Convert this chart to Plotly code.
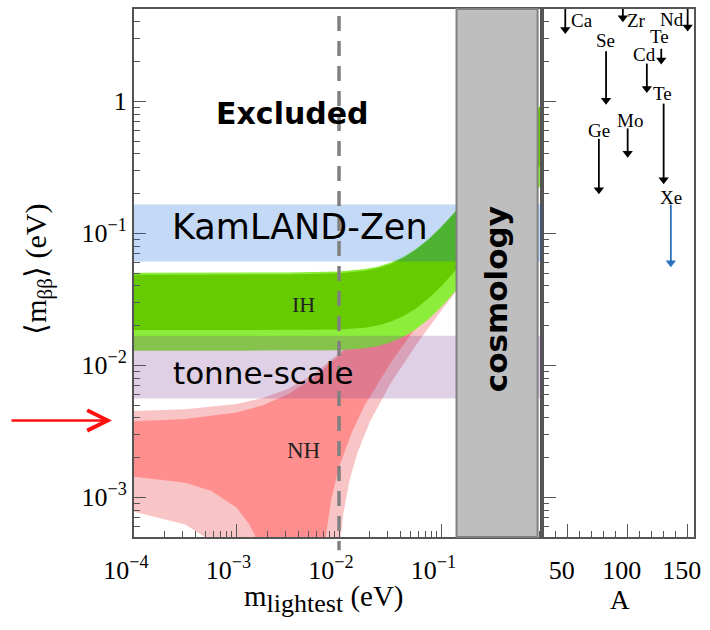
import math
import plotly.graph_objects as go

# ---------------- data ----------------
# Normal hierarchy, best-fit parameters (dark red band): m_lightest (eV) -> <m_bb> (eV)
nh_up_m = [1e-4, 3.16e-4, 1e-3, 1.78e-3, 3.16e-3, 5.62e-3, 1e-2, 1.78e-2, 3.16e-2, 5.62e-2, 0.1, 0.178, 0.316, 1.0]
nh_up = [0.00377, 0.00391, 0.00439, 0.00496, 0.00601, 0.00802, 0.01187, 0.01917, 0.03258, 0.0568, 0.1004, 0.178, 0.316, 1.0]
# lower edge; 1e-5 marks full cancellation (<m_bb> -> 0, below the axis)
nh_lo_m = [1e-4, 3.16e-4, 5.62e-4, 1e-3, 1.33e-3, 1.5e-3, 1.78e-3, 1.9e-3, 2.1e-3, 6.8e-3, 7e-3, 7.5e-3,
           8.4e-3, 1e-2, 1.33e-2, 1.78e-2, 3.16e-2, 5.62e-2, 0.1, 0.178, 0.316, 0.562, 1.0]
nh_lo = [0.00143, 0.00129, 0.00112, 0.000837, 0.000625, 0.00052, 0.000345, 0.000272, 1e-5, 1e-5, 0.0003, 0.000536,
         0.00096, 0.00169, 0.00309, 0.00497, 0.0103, 0.01938, 0.03523, 0.0632, 0.1125, 0.2002, 0.356]

# Normal hierarchy, 3 sigma (light red band)
nh3_up_m = [1e-4, 3.16e-4, 1e-3, 1.78e-3, 3.16e-3, 5.62e-3, 1e-2, 1.78e-2, 3.16e-2, 5.62e-2, 0.1, 0.178, 0.316, 1.0]
nh3_up = [0.0045, 0.00464, 0.00509, 0.00563, 0.00662, 0.00856, 0.01233, 0.01956, 0.0329, 0.0572, 0.1008, 0.1785, 0.3165, 1.002]
nh3_lo_m = [1e-4, 3.16e-4, 5e-4, 6e-4, 8e-4, 1e-3, 1.1e-3, 9.5e-3, 1e-2, 1.1e-2, 1.26e-2, 1.5e-2, 2e-2,
            3.16e-2, 5.62e-2, 0.1, 0.178, 0.316, 0.562, 1.0]
nh3_lo = [0.000776, 0.000623, 0.000495, 0.00043, 0.000288, 0.00015, 1e-5, 0.00019, 0.00038, 0.000747, 0.00132,
          0.00214, 0.00374, 0.00722, 0.01418, 0.02614, 0.0471, 0.0839, 0.1493, 0.266]

# Inverted hierarchy
ih_m = [1e-4, 1e-3, 3.16e-3, 1e-2, 1.78e-2, 2.37e-2, 3.16e-2, 4.22e-2, 5.62e-2, 7.5e-2, 0.1, 0.133, 0.178, 0.316, 0.562, 1.0]
ih_up = [0.0486, 0.0487, 0.0488, 0.0498, 0.0520, 0.0544, 0.0583, 0.0647, 0.0747, 0.0896, 0.1114, 0.1421, 0.1847, 0.3198, 0.5641, 1.0012]
ih_lo = [0.0185, 0.0185, 0.0185, 0.01865, 0.01928, 0.01998, 0.02132, 0.02347, 0.02693, 0.03217, 0.03987, 0.05075, 0.06585, 0.1139, 0.2009, 0.3564]
ih3_up = [0.0502, 0.0503, 0.0504, 0.0514, 0.0535, 0.0558, 0.0597, 0.0660, 0.0760, 0.0908, 0.1126, 0.1432, 0.1858, 0.3208, 0.5650, 1.002]
ih3_lo = [0.0129, 0.0129, 0.0129, 0.0130, 0.01344, 0.01393, 0.01486, 0.01636, 0.01877, 0.02242, 0.02779, 0.03537, 0.0459, 0.0794, 0.14, 0.2484]

# horizontal sensitivity bands (eV)
kamland_zen = [0.061, 0.165]
tonne_scale = [0.0056, 0.0167]
# cosmology-excluded m_lightest (eV)
cosmology = [0.14, 0.865]
# dashed reference line
m_dashed = 0.01

# right panel: isotope limits
iso_names = ["Ca", "Ge", "Se", "Zr", "Mo", "Cd", "Te", "Te", "Xe", "Nd"]
iso_A = [48, 76, 82, 96, 100, 116, 128, 130, 136, 150]
iso_m_top = [10.0, 0.519, 2.39, 10.0, 0.623, 1.93, 2.5, 0.96, 0.165, 10.0]
iso_m_bot = [3.5, 0.214, 1.02, 4.3, 0.404, 1.25, 2.05, 0.254, 0.0597, 3.65]
iso_colors = ["black"] * 8 + ["#2a72c0", "black"]

x_ticks = [1e-4, 1e-3, 1e-2, 1e-1]
x_ticktext = ["10<sup>−4</sup>", "10<sup>−3</sup>", "10<sup>−2</sup>", "10<sup>−1</sup>"]
y_ticks = [1e-3, 1e-2, 1e-1, 1]
y_ticktext = ["10<sup>−3</sup>", "10<sup>−2</sup>", "10<sup>−1</sup>", "1"]
A_ticks = [50, 100, 150]

# ---------------- styling ----------------
SERIF = "Liberation Serif"
SANS = "DejaVu Sans"
AX = "#555555"
Y_RANGE = [math.log10(5e-4), math.log10(5)]
X_RANGE = [-4, -0.02]
A_RANGE = [28.6, 155.3]
D = 408 / 560.0

x_minor = [k * 10 ** e for e in range(-4, 0) for k in range(2, 10)]
y_minor = [k * 10 ** e for e in range(-4, 1) for k in range(2, 10)]


def band(xu, yu, xl, yl):
    return list(xu) + list(xl)[::-1], list(yu) + list(yl)[::-1]


fig = go.Figure()


def poly(xu, yu, xl, yl, color):
    xs, ys = band(xu, yu, xl, yl)
    fig.add_trace(go.Scatter(x=xs, y=ys, fill="toself", fillcolor=color, mode="lines",
                             line=dict(width=0), hoverinfo="skip", xaxis="x", yaxis="y"))


poly(nh3_up_m, nh3_up, nh3_lo_m, nh3_lo, "#f9c4c6")
poly(nh_up_m, nh_up, nh_lo_m, nh_lo, "#ff8f8f")
poly(ih_m, ih3_up, ih_m, ih3_lo, "#8cee3a")
poly(ih_m, ih_up, ih_m, ih_lo, "#66cc00")

# isotope arrows
for name, A, mt, mb, col in zip(iso_names, iso_A, iso_m_top, iso_m_bot, iso_colors):
    fig.add_trace(go.Scatter(x=[A, A], y=[mt, mb], mode="lines", line=dict(color=col, width=1.8),
                             hoverinfo="skip", xaxis="x2", yaxis="y2"))
    fig.add_trace(go.Scatter(x=[A], y=[mb], mode="markers",
                             marker=dict(symbol="triangle-down", size=9, color=col),
                             hoverinfo="skip", xaxis="x2", yaxis="y2", cliponaxis=False))

x_end = 10 ** X_RANGE[1]
shapes = [
    dict(type="rect", xref="x", yref="y", x0=1e-4, x1=x_end, y0=kamland_zen[0], y1=kamland_zen[1],
         fillcolor="rgba(0,93,213,0.235)", line=dict(width=0), layer="above"),
    dict(type="rect", xref="x", yref="y", x0=1e-4, x1=x_end, y0=tonne_scale[0], y1=tonne_scale[1],
         fillcolor="rgba(118,50,141,0.23)", line=dict(width=0), layer="above"),
    dict(type="rect", xref="x", yref="paper", x0=cosmology[0], x1=cosmology[1], y0=0, y1=1,
         fillcolor="#bebebe", line=dict(color="#808080", width=2), layer="above"),
    dict(type="line", xref="x", yref="paper", x0=m_dashed, x1=m_dashed, y0=0.9868, y1=-0.025,
         line=dict(color="#808080", width=3.5, dash="15px,10px"), layer="above"),
]

ann = []


def text(x, y, s, size, family, xref="x", yref="y", angle=0, color="black"):
    ann.append(dict(x=x, y=y, xref=xref, yref=yref, text=s, showarrow=False, textangle=angle,
                    font=dict(size=size, family=family, color=color), xanchor="center", yanchor="middle"))


text(-2.45, -0.09, "<b>Excluded</b>", 30, SANS)
text(-2.385, -0.955, "KamLAND-Zen", 35, SANS)
text(-2.737, -2.055, "tonne-scale", 31, SANS)
text(-0.47, -1.50, "<b>cosmology</b>", 31, SANS, angle=-90)
text(-2.351, -1.543, "IH", 22, SERIF, color="#222222")
text(-2.346, -2.645, "NH", 23, SERIF, color="#222222")

# isotope labels (A, log10 m)
iso_label_pos = [(62.3, 0.611), (76.1, -0.219), (81.9, 0.460), (107.5, 0.615), (102.3, -0.143),
                 (114.0, 0.358), (126.9, 0.490), (129.4, 0.060), (136.5, -0.728), (137.3, 0.622)]
for name, (lx, ly) in zip(iso_names, iso_label_pos):
    text(lx, ly, name, 19, SERIF, xref="x2", yref="y2")

# axis titles
text(-0.172, 0.5075, "⟨m<sub>ββ</sub>⟩ (eV)", 30, SERIF, xref="paper", yref="paper", angle=-90)
text(0.3393, -0.117, "m<sub><span style='font-size:26px'>lightest</span></sub> (eV)", 29, SERIF,
     xref="paper", yref="paper")
text(0.8679, -0.12, "A", 27, SERIF, xref="paper", yref="paper")

# red arrow in the margin
ann.append(dict(x=-0.0393, y=0.2208, xref="paper", yref="paper", ax=-102, ay=0, text="",
                showarrow=True, arrowhead=5, arrowsize=1.6, arrowwidth=2.5, arrowcolor="#ff1010",
                standoff=0))

tickfont = dict(family=SERIF, size=26, color="black")
common = dict(showline=True, mirror=True, linecolor=AX, linewidth=2, showgrid=False, zeroline=False,
              ticks="inside", tickcolor=AX, tickwidth=1.3, tickfont=tickfont)

fig.update_layout(
    width=710, height=630, margin=dict(l=134, r=16, t=7, b=93),
    paper_bgcolor="white", plot_bgcolor="white", showlegend=False,
    xaxis=dict(domain=[0, D], type="log", range=X_RANGE, anchor="y", tickvals=x_ticks, ticktext=x_ticktext,
               ticklen=13, ticklabelshift=-8, ticklabelstandoff=9,
               minor=dict(tickvals=x_minor, ticks="inside", ticklen=6, tickcolor=AX, tickwidth=1.2), **common),
    yaxis=dict(domain=[0, 1], type="log", range=Y_RANGE, anchor="x", tickvals=y_ticks, ticktext=y_ticktext,
               ticklen=12,
               minor=dict(tickvals=y_minor, ticks="inside", ticklen=6, tickcolor=AX, tickwidth=1.2), **common),
    xaxis2=dict(domain=[D, 1], range=A_RANGE, anchor="y2", tickvals=A_ticks, ticklen=13, ticklabelshift=-6,
                ticklabelstandoff=9,
                minor=dict(dtick=10, tick0=0, ticks="inside", ticklen=6, tickcolor=AX, tickwidth=1.2), **common),
    yaxis2=dict(domain=[0, 1], type="log", range=Y_RANGE, anchor="x2", showticklabels=False,
                tickvals=y_ticks, ticklen=14,
                minor=dict(tickvals=y_minor, ticks="inside", ticklen=7, tickcolor=AX, tickwidth=1.2), **common),
    shapes=shapes, annotations=ann,
)

fig.write_html("out.html")
